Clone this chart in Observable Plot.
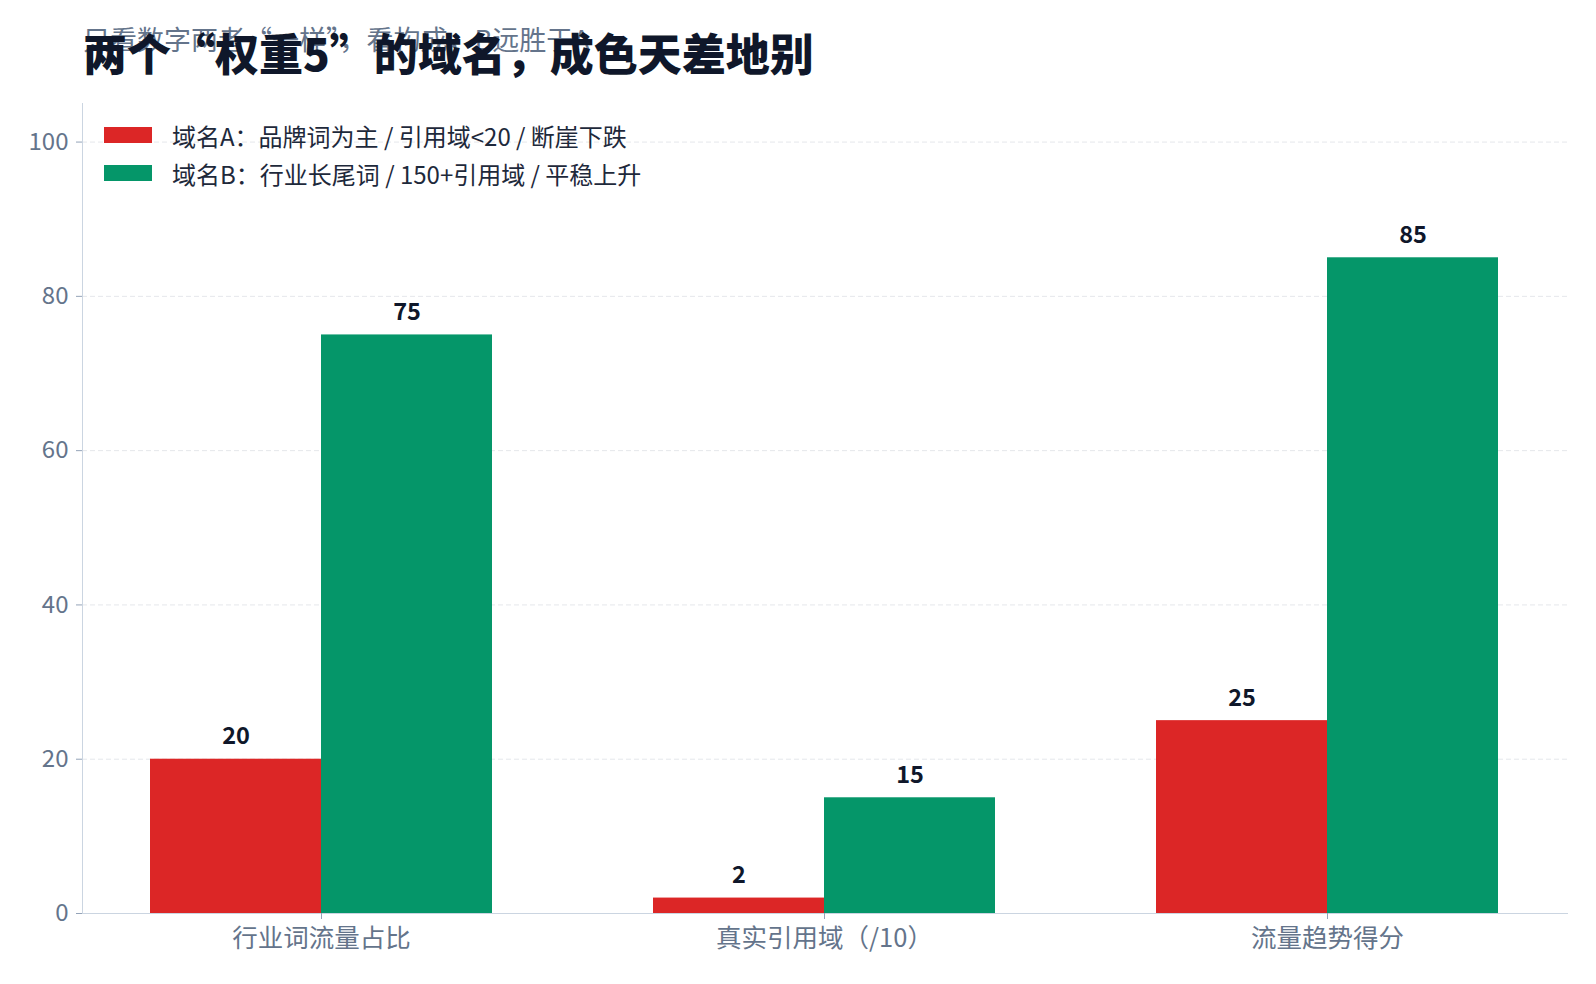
<!DOCTYPE html>
<html>
<head>
<meta charset="utf-8">
<script src="https://cdn.jsdelivr.net/npm/d3@7"></script>
<script src="https://cdn.jsdelivr.net/npm/@observablehq/plot@0.6"></script>
<style>
  html, body { margin: 0; padding: 0; background: #ffffff; }
  body { font-family: "Noto Sans CJK SC", "Noto Sans", sans-serif; }
  #wrap { position: relative; width: 1596px; height: 984px; }
  #header { position: relative; height: 90px; }
  #subtitle { position: absolute; left: 83px; top: 25px; font-size: 27px; line-height: 27px; color: #64748b; white-space: nowrap; }
  #title { position: absolute; left: 83px; top: 30px; font-size: 44px; line-height: 44px; font-weight: 900; color: #0f172a; white-space: nowrap; }
  #chart { position: relative; width: 1596px; height: 894px; }
  #chart svg { position: absolute; left: 0; top: 0; }
  #legend { position: absolute; left: 104px; top: 116px; font-size: 24px; color: #1e293b; }
  .row { display: flex; align-items: center; height: 38px; white-space: nowrap; }
  .sw { width: 48px; height: 16px; margin-right: 20px; }
</style>
</head>
<body>
<div id="wrap">
  <div id="header">
    <div id="subtitle"></div>
    <div id="title"></div>
  </div>
  <div id="chart"></div>
  <div id="legend"></div>
</div>
<script>
const titleText = "两个“权重5”的域名，成色天差地别";
const subtitleText = "只看数字两者“一样”，看构成，B远胜于A";
const categories = ["行业词流量占比", "真实引用域（/10）", "流量趋势得分"];
const seriesKeys = ["A", "B"];
const seriesLabels = ["域名A：品牌词为主 / 引用域<20 / 断崖下跌", "域名B：行业长尾词 / 150+引用域 / 平稳上升"];
const valuesA = [20, 2, 25];
const valuesB = [75, 15, 85];
const seriesColors = ["#dc2626", "#059669"];
const yTicks = [0, 20, 40, 60, 80, 100];
const yDomain = [0, 105];

document.getElementById("title").textContent = titleText;
document.getElementById("subtitle").textContent = subtitleText;

const legend = document.getElementById("legend");
seriesLabels.forEach((lab, i) => {
  const row = document.createElement("div");
  row.className = "row";
  const sw = document.createElement("div");
  sw.className = "sw";
  sw.style.background = seriesColors[i];
  const t = document.createElement("span");
  t.textContent = lab;
  row.appendChild(sw); row.appendChild(t);
  legend.appendChild(row);
});

const data = [];
categories.forEach((c, i) => {
  data.push({cat: c, series: seriesKeys[0], value: valuesA[i]});
  data.push({cat: c, series: seriesKeys[1], value: valuesB[i]});
});

const common = {
  width: 1596,
  height: 894,
  marginLeft: 82,
  marginRight: 29,
  marginTop: 13,
  marginBottom: 71,
  y: {domain: yDomain, label: null}
};
const fontFamily = "'Noto Sans CJK SC', 'Noto Sans', sans-serif";

// background layer: grid, axis lines, y axis
const back = Plot.plot({
  ...common,
  style: {fontFamily, background: "#ffffff"},
  marks: [
    Plot.ruleY(yTicks.filter(d => d > 0), {stroke: "#e5e7eb", strokeDasharray: "5,3", strokeWidth: 1}),
    Plot.frame({anchor: "left", stroke: "#cbd5e1"}),
    Plot.frame({anchor: "bottom", stroke: "#cbd5e1"}),
    Plot.axisY({ticks: yTicks, tickSize: 6, tickPadding: 8, fontSize: 24, stroke: "#94a3b8", fill: "#64748b", label: null})
  ]
});

// foreground layer: grouped bars, value labels, category axis
const front = Plot.plot({
  ...common,
  style: {fontFamily, background: "transparent"},
  fx: {domain: categories, paddingInner: 0.32, paddingOuter: 0.135, label: null},
  x: {domain: seriesKeys, padding: 0, axis: null},
  color: {domain: seriesKeys, range: seriesColors},
  marks: [
    Plot.barY(data, {fx: "cat", x: "series", y: "value", fill: "series", inset: 0}),
    Plot.text(data, {fx: "cat", x: "series", y: "value", text: d => String(d.value), dy: -15, lineAnchor: "bottom", fontSize: 23.5, fontWeight: "bold", fill: "#0f172a"}),
    Plot.axisY({ticks: [], label: null}),
    Plot.axisFx({anchor: "bottom", tickSize: 6, tickPadding: 9, fontSize: 25.5, stroke: "#94a3b8", fill: "#64748b", label: null})
  ]
});
const chartDiv = document.getElementById("chart");
chartDiv.appendChild(back);
chartDiv.appendChild(front);
</script>
</body>
</html>
